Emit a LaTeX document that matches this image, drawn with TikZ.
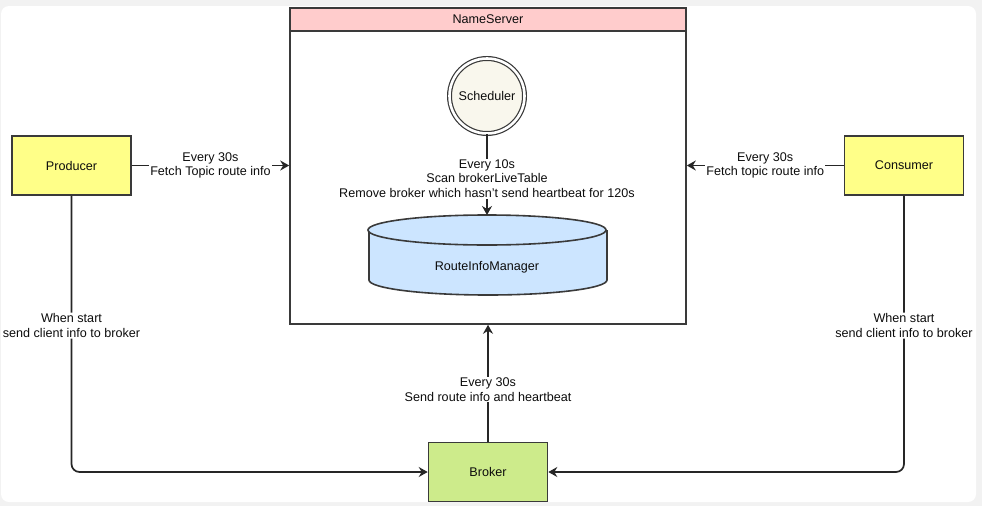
\documentclass[tikz,border=0pt]{standalone}
\usepackage{fontspec}
\setmainfont{Liberation Sans}
\usetikzlibrary{arrows.meta}
\definecolor{panelgray}{HTML}{F2F2F2}
\definecolor{boxborder}{HTML}{3A3A3A}
\definecolor{headpink}{HTML}{FFCCCC}
\definecolor{clientyellow}{HTML}{FFFF88}
\definecolor{brokergreen}{HTML}{CDEB8B}
\definecolor{storeblue}{HTML}{CCE5FF}
\definecolor{schedbeige}{HTML}{F9F7ED}
\begin{document}
\begin{tikzpicture}[x=1pt,y=1pt,
  every node/.style={font=\fontsize{12.6}{14.6}\selectfont, text=black!95},
  box/.style={draw=boxborder, line width=1.6pt, minimum width=119pt, minimum height=59pt},
  link/.style={draw=black!85, line width=1.7pt, -{Stealth[length=9pt,width=10pt,inset=3pt]}},
  tag/.style={fill=white, align=center, inner sep=1pt}]
  % background panel
  \fill [panelgray] (0,0) rectangle (982,-506);
  \useasboundingbox (0,0) rectangle (982,-506);
  \fill [white, rounded corners=8pt] (1,-6) rectangle (976,-502);
  % name server container
  \node [draw=boxborder, line width=1.6pt, minimum width=396pt, minimum height=316pt] (ns) at (488,-166) {};
  \node [draw=boxborder, fill=headpink, line width=1.6pt, minimum width=396pt, minimum height=23pt] (nshead) at (488,-19.5) {NameServer};
  \node [circle, draw=boxborder, fill=schedbeige, line width=1.2pt, double=white, double distance=2.6pt, minimum size=75pt] (sched) at (487,-96) {Scheduler};
  % route info store
  \draw [fill=storeblue, draw=boxborder, line width=1.6pt] (369,-230) -- (369,-280) arc [start angle=180, end angle=360, x radius=119pt, y radius=15pt] -- (607,-230);
  \draw [fill=storeblue, draw=boxborder, line width=1.6pt] (487,-230) ellipse [x radius=119pt, y radius=15pt];
  \coordinate (store) at (487,-215);
  \node (storetext) at (487,-267) {RouteInfoManager};
  % clients and broker
  \node [box, fill=clientyellow] (producer) at (71.5,-165.5) {Producer};
  \node [box, fill=clientyellow] (consumer) at (904,-165.5) {Consumer};
  \node [box, fill=brokergreen] (broker) at (488,-472) {Broker};
  % connectors
  \draw [link] (sched.south) -- node [tag, pos=0.55] {Every 10s\\Scan brokerLiveTable\\Remove broker which hasn't send heartbeat for 120s} (store);
  \draw [link] (producer.east) -- node [tag] {Every 30s\\Fetch Topic route info} (ns.west |- producer);
  \draw [link] (consumer.west) -- node [tag] {Every 30s\\Fetch topic route info} (ns.east |- consumer);
  \draw [link] (broker.north) -- node [tag, pos=0.445] {Every 30s\\Send route info and heartbeat} (ns.south -| broker);
  \draw [link, rounded corners=8pt] (producer.south) |- node [tag, pos=0.235] {When start\\send client info to broker} (broker.west);
  \draw [link, rounded corners=8pt] (consumer.south) |- node [tag, pos=0.235] {When start\\send client info to broker} (broker.east);
\end{tikzpicture}
\end{document}
